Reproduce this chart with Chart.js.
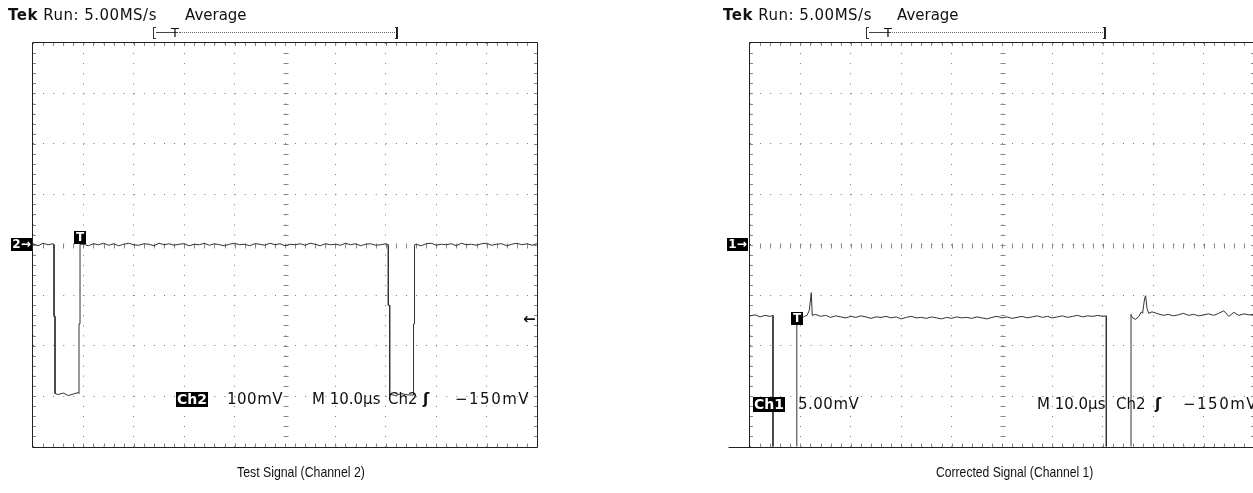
<!DOCTYPE html>
<html>
<head>
<meta charset="utf-8">
<script src="https://cdn.jsdelivr.net/npm/chart.js@4.4.0/dist/chart.umd.min.js"></script>
<style>
  html, body { margin: 0; padding: 0; background: #fff; overflow: hidden; }
  body { position: relative; width: 1253px; height: 493px; }
  .scope { position: absolute; top: 0; height: 493px; }
  .t { position: absolute; font-family: "DejaVu Sans", sans-serif; font-size: 15px; line-height: 15px; color: #111; white-space: nowrap; }
  .inv { background: #000; color: #fff; font-weight: bold; padding: 1px 1px; }
  .mk { position: absolute; background: #000; color: #fff; font-family: "DejaVu Sans", sans-serif; font-weight: bold; font-size: 12px; line-height: 13px; text-align: center; }
  .cap { position: absolute; top: 463px; font-family: "Liberation Sans", Arial, sans-serif; font-size: 15px; line-height: 18px; color: #111; white-space: nowrap; transform-origin: 0 0; }
  .brl { position: absolute; top: 27px; width: 2px; height: 10px; border: 1px solid #333; border-right: none; }
  .brr { position: absolute; top: 27px; width: 1px; height: 10px; border: 1px solid #222; border-left: none; border-right-width: 2px; }
  .sl { position: absolute; top: 32px; height: 0; border-top: 1px solid #444; }
  .dl { position: absolute; top: 32px; height: 0; border-top: 1px dotted #666; }
</style>
</head>
<body>
<div class="scope" style="left:0;width:626px"><canvas id="ch2Chart"></canvas></div>
<div class="scope" style="left:626px;width:640px"><canvas id="ch1Chart"></canvas></div>

<!-- left scope: test signal -->
<div class="t" style="left:8px;top:8px;letter-spacing:0.5px"><b>Tek</b> Run: 5.00MS/s</div>
<div class="t" style="left:185px;top:8px">Average</div>
<div class="brl" style="left:153px"></div>
<div class="sl" style="left:156px;width:22px"></div>
<div class="t" style="left:171px;top:25px;font-size:13px">T</div>
<div class="dl" style="left:179px;width:216px"></div>
<div class="brr" style="left:395px"></div>
<div class="mk" style="left:11px;top:238px;width:21px">2→</div>
<div class="mk" style="left:74px;top:231px;width:12px">T</div>
<div class="t" style="left:523px;top:312px;font-weight:bold">←</div>
<div class="t inv" style="left:176px;top:392px;font-size:14px;line-height:13px">Ch2</div>
<div class="t" style="left:227px;top:392px;letter-spacing:0.5px">100mV</div>
<div class="t" style="left:312px;top:392px">M 10.0µs</div>
<div class="t" style="left:388px;top:392px">Ch2</div>
<div class="t" style="left:423px;top:392px;font-weight:bold">ʃ</div>
<div class="t" style="left:455px;top:392px;letter-spacing:1.5px">−150mV</div>
<div class="cap" style="left:237px;transform:scaleX(0.82)">Test Signal (Channel 2)</div>

<!-- right scope: corrected signal -->
<div class="t" style="left:723px;top:8px;letter-spacing:0.5px"><b>Tek</b> Run: 5.00MS/s</div>
<div class="t" style="left:897px;top:8px">Average</div>
<div class="brl" style="left:866px"></div>
<div class="sl" style="left:869px;width:22px"></div>
<div class="t" style="left:884px;top:25px;font-size:13px">T</div>
<div class="dl" style="left:892px;width:211px"></div>
<div class="brr" style="left:1103px"></div>
<div class="mk" style="left:727px;top:238px;width:21px">1→</div>
<div class="mk" style="left:791px;top:312px;width:12px">T</div>
<div class="t inv" style="left:753px;top:397px;font-size:14px;line-height:13px">Ch1</div>
<div class="t" style="left:798px;top:397px;letter-spacing:0.5px">5.00mV</div>
<div class="t" style="left:1037px;top:397px">M 10.0µs</div>
<div class="t" style="left:1116px;top:397px">Ch2</div>
<div class="t" style="left:1155px;top:397px;font-weight:bold">ʃ</div>
<div class="t" style="left:1183px;top:397px;letter-spacing:1.5px">−150mV</div>
<div class="cap" style="left:936px;transform:scaleX(0.81)">Corrected Signal (Channel 1)</div>

<script>
// temps en µs (10 µs/div), niveaux en divisions verticales
const ch2Times = [0, 1, 2, 3, 4, 4.17, 4.17, 4.37, 4.37, 5, 6, 7, 8, 9, 9.13, 9.13, 9.33, 9.33,
  10, 11, 12, 13, 14, 15, 16, 17, 18, 19, 20, 21, 22, 23, 24, 25, 26, 27, 28, 29,
  30, 31, 32, 33, 34, 35, 36, 37, 38, 39, 40, 41, 42, 43, 44, 45, 46, 47, 48, 49,
  50, 51, 52, 53, 54, 55, 56, 57, 58, 59, 60, 61, 62, 63, 64, 65, 66, 67, 68, 69, 70,
  70.5, 70.5, 70.77, 70.77, 71, 72, 73, 74, 75, 75.5, 75.5, 75.7, 75.7,
  76, 77, 78, 79, 80, 81, 82, 83, 84, 85, 86, 87, 88, 89, 90, 91, 92, 93, 94, 95, 96, 97, 98, 99, 100];
const ch2Levels = [0.02, -0.02, 0.03, 0.00, 0.02, 0.00, -1.42, -1.42, -2.95, -2.97, -2.94, -2.99, -2.96, -2.93, -2.95, -1.57, -1.57, 0.01,
  0.01, -0.02, 0.02, 0.00, 0.03, -0.01, 0.02, -0.02, 0.01, 0.03, 0.00, -0.01, 0.02, 0.01, -0.02, 0.03, 0.00, 0.02, -0.01, 0.01,
  0.02, -0.02, 0.01, 0.00, 0.03, -0.01, 0.02, 0.00, -0.02, 0.01, 0.03, 0.00, 0.01, -0.02, 0.02, 0.01, -0.01, 0.03, 0.00, 0.02,
  -0.02, 0.01, 0.00, 0.02, -0.01, 0.03, 0.01, -0.02, 0.02, 0.00, 0.01, -0.01, 0.03, 0.00, 0.02, -0.02, 0.01, 0.02, -0.01, 0.00, 0.02,
  0.00, -1.20, -1.20, -2.98, -2.97, -2.99, -2.95, -2.97, -2.98, -2.98, -1.57, -1.57, 0.00,
  0.01, -0.02, 0.02, 0.03, -0.01, 0.01, 0.00, 0.02, -0.02, 0.03, 0.00, 0.01, -0.01, 0.02, 0.03, -0.01, 0.01, 0.02, -0.02, 0.01, 0.03, 0.00, 0.02, -0.01, 0.02];

const ch1Times = [0, 1, 2, 3, 4, 4.56, 4.56, 9.29, 9.29, 10.38, 10.8, 11.31, 11.77, 12.16, 12.36, 12.96,
  14, 15, 16, 17, 18, 19, 20, 21, 22, 23, 24, 25, 26, 27, 28, 29, 30, 31, 32, 33,
  34, 35, 36, 37, 38, 39, 40, 41, 42, 43, 44, 45, 46, 47, 48, 49, 50, 51, 52, 53,
  54, 55, 56, 57, 58, 59, 60, 61, 62, 63, 64, 65, 66, 67, 68, 69, 70,
  70.7, 70.7, 75.6, 75.6, 75.8, 76.44, 77.1, 77.64, 77.9, 78.3, 78.5, 78.77, 79.1, 79.76,
  81, 82, 83, 84, 85, 86, 87, 88, 89, 90, 91, 92, 93, 94, 95, 96, 97, 98, 99, 100];
const ch1Levels = [-1.41, -1.39, -1.43, -1.40, -1.42, -1.40, -5, -5, -1.45, -1.45, -1.42, -1.40, -1.30, -0.95, -1.40, -1.38,
  -1.42, -1.40, -1.44, -1.41, -1.43, -1.45, -1.42, -1.44, -1.41, -1.43, -1.46, -1.43, -1.44, -1.42, -1.45, -1.43, -1.47, -1.44, -1.42, -1.45,
  -1.44, -1.46, -1.43, -1.45, -1.47, -1.44, -1.46, -1.43, -1.45, -1.44, -1.46, -1.43, -1.45, -1.47, -1.44, -1.42, -1.45, -1.43, -1.46, -1.44,
  -1.42, -1.45, -1.43, -1.41, -1.44, -1.42, -1.45, -1.43, -1.41, -1.44, -1.42, -1.40, -1.43, -1.41, -1.42, -1.40, -1.42,
  -1.41, -5, -5, -1.38, -1.44, -1.48, -1.43, -1.33, -1.36, -1.06, -1.01, -1.26, -1.36, -1.33,
  -1.37, -1.40, -1.38, -1.41, -1.39, -1.36, -1.40, -1.38, -1.41, -1.39, -1.37, -1.40, -1.36, -1.31, -1.42, -1.34, -1.40, -1.37, -1.39, -1.38];

// graticule de l'oscillo : petits traits tous les 1/5 de division + cadre
const graticule = {
  id: 'graticule',
  beforeDatasetsDraw(chart, args, opts) {
    const { ctx, chartArea: a, scales: { x, y } } = chart;
    const cx = Math.round(x.getPixelForValue(50)) + 0.5;
    const cy = Math.round(y.getPixelForValue(0)) + 0.5;
    ctx.save();
    ctx.lineWidth = 1;
    ctx.strokeStyle = '#888';
    ctx.beginPath();
    for (let i = 1; i < 50; i++) {
      const px = Math.round(x.getPixelForValue(i * 2)) + 0.5;
      ctx.moveTo(px, a.top); ctx.lineTo(px, a.top + 3);
      ctx.moveTo(px, a.bottom - 3); ctx.lineTo(px, a.bottom);
      ctx.moveTo(px, cy - 2); ctx.lineTo(px, cy + 3);
    }
    for (let j = 1; j < 40; j++) {
      const py = Math.round(y.getPixelForValue(-4 + j * 0.2)) + 0.5;
      ctx.moveTo(a.left, py); ctx.lineTo(a.left + 3, py);
      ctx.moveTo(a.right - 3, py); ctx.lineTo(a.right, py);
      ctx.moveTo(cx - 2, py); ctx.lineTo(cx + 3, py);
    }
    ctx.stroke();
    ctx.strokeStyle = '#222';
    ctx.beginPath();
    const l = Math.round(a.left) - 0.5, r = Math.round(a.right) + 0.5;
    const t = Math.round(a.top) - 0.5, b = Math.round(a.bottom) + 0.5;
    ctx.moveTo(l - (opts.bottomLead || 0), b);
    ctx.lineTo(r, b); ctx.lineTo(r, t); ctx.lineTo(l, t); ctx.lineTo(l, b);
    ctx.stroke();
    ctx.restore();
  }
};

function makeScope(id, times, levels, padding, bottomLead) {
  new Chart(document.getElementById(id), {
    type: 'line',
    data: {
      datasets: [{
        data: times.map((t, i) => ({ x: t, y: levels[i] })),
        borderColor: '#333',
        borderWidth: 1,
        pointRadius: 0,
        tension: 0,
        fill: false
      }]
    },
    options: {
      responsive: true,
      maintainAspectRatio: false,
      animation: false,
      layout: { padding: padding },
      plugins: {
        legend: { display: false },
        tooltip: { enabled: false },
        graticule: { bottomLead: bottomLead }
      },
      scales: {
        x: {
          type: 'linear', min: 0, max: 100,
          ticks: { display: false, stepSize: 10, autoSkip: false },
          grid: { color: '#777', lineWidth: 1, drawTicks: false },
          border: { display: false, dash: [1, 9.08] }
        },
        y: {
          type: 'linear', min: -4, max: 4,
          ticks: { display: false, stepSize: 1, autoSkip: false },
          grid: { color: '#777', lineWidth: 1, drawTicks: false },
          border: { display: false, dash: [1, 9.08] }
        }
      }
    },
    plugins: [graticule]
  });
}

makeScope('ch2Chart', ch2Times, ch2Levels, { left: 33, right: 89, top: 43, bottom: 46.5 }, 0);
makeScope('ch1Chart', ch1Times, ch1Levels, { left: 124, right: 12, top: 43, bottom: 46.5 }, 21);
</script>
</body>
</html>
